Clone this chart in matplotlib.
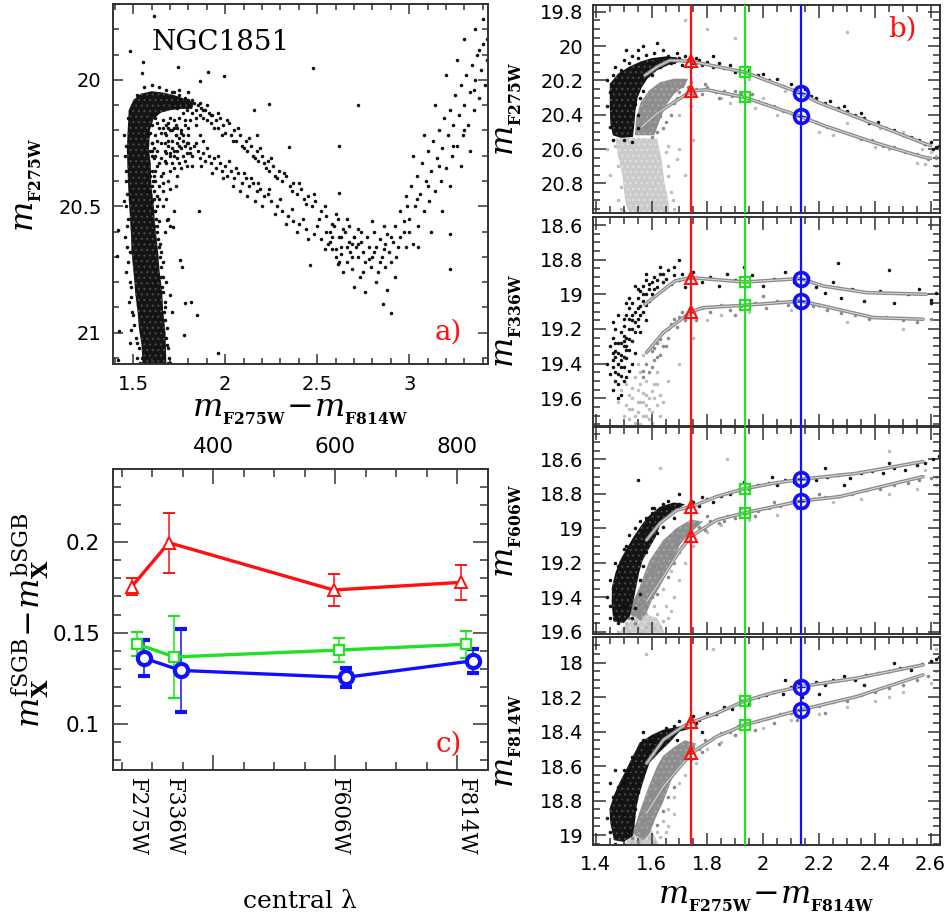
import matplotlib
matplotlib.use('Agg')
import matplotlib.pyplot as plt
from matplotlib.ticker import MultipleLocator

plt.rcParams['mathtext.fontset'] = 'custom'
plt.rcParams['mathtext.rm'] = 'DejaVu Serif'
plt.rcParams['mathtext.it'] = 'DejaVu Serif:italic'
plt.rcParams['mathtext.bf'] = 'DejaVu Serif:bold'
plt.rcParams['font.family'] = ['DejaVu Sans']
plt.rcParams['hatch.linewidth'] = 0.8

# ======================= DATA =======================
# ---- panel c ----
filters = ['F275W', 'F336W', 'F606W', 'F814W']
wavelength = [275, 336, 606, 814]
diff_red = [0.1753, 0.1995, 0.1735, 0.1777]
err_red = [0.0048, 0.0165, 0.0088, 0.0097]
diff_green = [0.1438, 0.1367, 0.1405, 0.1437]
err_green = [0.0066, 0.0224, 0.0067, 0.0074]
diff_blue = [0.1361, 0.1293, 0.1255, 0.1346]
err_blue = [0.0101, 0.0226, 0.0051, 0.0065]

# ---- colour cuts in panel b ----
cut_colors = [1.743, 1.934, 2.134]

# magnitudes of bSGB / fSGB at the three colour cuts (red, green, blue)
b1_bsgb = [20.089, 20.152, 20.274]
b1_fsgb = [20.262, 20.299, 20.410]
b2_bsgb = [18.904, 18.929, 18.909]
b2_fsgb = [19.100, 19.063, 19.039]
b3_bsgb = [18.875, 18.770, 18.716]
b3_fsgb = [19.045, 18.910, 18.842]
b4_bsgb = [18.345, 18.222, 18.139]
b4_fsgb = [18.525, 18.361, 18.274]

# fiducial lines (colour, mag)
b1_up_x = [1.576, 1.62, 1.666, 1.743, 1.934, 2.134, 2.196, 2.40, 2.573, 2.60]
b1_up_y = [20.17, 20.12, 20.083, 20.089, 20.152, 20.274, 20.327, 20.455, 20.565, 20.58]
b1_lo_x = [1.564, 1.618, 1.69, 1.743, 1.797, 1.934, 2.134, 2.215, 2.394, 2.573, 2.60]
b1_lo_y = [20.472, 20.394, 20.317, 20.262, 20.254, 20.299, 20.41, 20.462, 20.56, 20.647, 20.655]
b2_up_x = [1.576, 1.684, 1.743, 1.934, 2.134, 2.215, 2.37, 2.585]
b2_up_y = [19.058, 18.923, 18.904, 18.929, 18.909, 18.952, 18.99, 19.0]
b2_lo_x = [1.582, 1.642, 1.743, 1.785, 1.934, 2.134, 2.215, 2.394, 2.573]
b2_lo_y = [19.336, 19.221, 19.1, 19.077, 19.063, 19.039, 19.067, 19.134, 19.144]
b3_up_x = [1.582, 1.63, 1.69, 1.743, 1.833, 1.934, 2.036, 2.134, 2.335, 2.573]
b3_up_y = [19.068, 18.97, 18.894, 18.875, 18.816, 18.77, 18.739, 18.716, 18.681, 18.613]
b3_lo_x = [1.582, 1.642, 1.702, 1.743, 1.833, 1.934, 2.134, 2.275, 2.573]
b3_lo_y = [19.425, 19.28, 19.126, 19.045, 18.952, 18.91, 18.842, 18.816, 18.70]
b4_up_x = [1.582, 1.642, 1.702, 1.743, 1.833, 1.934, 2.036, 2.134, 2.335, 2.573]
b4_up_y = [18.584, 18.448, 18.381, 18.345, 18.294, 18.222, 18.174, 18.139, 18.09, 18.013]
b4_lo_x = [1.582, 1.642, 1.702, 1.743, 1.833, 1.934, 2.134, 2.335, 2.573]
b4_lo_y = [18.874, 18.719, 18.603, 18.525, 18.429, 18.361, 18.274, 18.197, 18.071]

# ---- panel a stars (colour, F275W) ----
a_ms_core = [(1.55, 21.13), (1.545, 21.05), (1.53, 20.98), (1.525, 20.93), (1.51, 20.84),
             (1.505, 20.79), (1.49, 20.68), (1.488, 20.62), (1.476, 20.48), (1.472, 20.42),
             (1.465, 20.28), (1.468, 20.22), (1.475, 20.12), (1.50, 20.08), (1.54, 20.055),
             (1.60, 20.045), (1.66, 20.05), (1.72, 20.06), (1.78, 20.075), (1.83, 20.09),
             (1.82, 20.115), (1.76, 20.115), (1.70, 20.12), (1.65, 20.13), (1.61, 20.155),
             (1.59, 20.20), (1.585, 20.28), (1.595, 20.33), (1.598, 20.42), (1.612, 20.50),
             (1.618, 20.57), (1.635, 20.68), (1.642, 20.75), (1.657, 20.84), (1.662, 20.91),
             (1.675, 21.0), (1.68, 21.13)]
a_ms = [(1.455, 20.30), (1.46, 20.40), (1.462, 20.50), (1.465, 20.58), (1.468, 20.66), (1.472, 20.72),
        (1.48, 20.80), (1.488, 20.86), (1.495, 20.92), (1.505, 20.97), (1.515, 21.02), (1.53, 21.06),
        (1.545, 21.10), (1.60, 20.30), (1.605, 20.40), (1.615, 20.47), (1.625, 20.55), (1.635, 20.63),
        (1.645, 20.70), (1.65, 20.78), (1.66, 20.84), (1.67, 20.90), (1.675, 20.95), (1.68, 21.02),
        (1.69, 21.06), (1.695, 21.10), (1.70, 21.12), (1.45, 20.22), (1.47, 20.15), (1.45, 20.48),
        (1.455, 20.62), (1.46, 20.76), (1.475, 20.88), (1.49, 20.99), (1.52, 21.10), (1.62, 20.52),
        (1.63, 20.58), (1.64, 20.66), (1.65, 20.74), (1.655, 20.82), (1.665, 20.92), (1.685, 21.05),
        (1.69, 21.12), (1.60, 20.36), (1.61, 20.44), (1.46, 20.26), (1.458, 20.36), (1.465, 20.45),
        (1.47, 20.55), (1.48, 20.68), (1.49, 20.82), (1.50, 20.93), (1.52, 21.04), (1.535, 21.12),
        (1.60, 20.25), (1.63, 20.50), (1.645, 20.65), (1.66, 20.78), (1.67, 20.88), (1.685, 20.98)]
a_turnoff = [(1.57, 20.16), (1.58, 20.22), (1.59, 20.28), (1.58, 20.33), (1.60, 20.18), (1.60, 20.25),
             (1.61, 20.31), (1.61, 20.38), (1.62, 20.15), (1.62, 20.22), (1.63, 20.28), (1.63, 20.34),
             (1.64, 20.19), (1.64, 20.42), (1.65, 20.25), (1.65, 20.31), (1.66, 20.16), (1.66, 20.37),
             (1.67, 20.21), (1.67, 20.28), (1.68, 20.18), (1.68, 20.33), (1.69, 20.24), (1.69, 20.40),
             (1.70, 20.15), (1.70, 20.29), (1.71, 20.20), (1.72, 20.35), (1.73, 20.18), (1.74, 20.28),
             (1.75, 20.33), (1.76, 20.20), (1.77, 20.30), (1.78, 20.16), (1.79, 20.34), (1.80, 20.19),
             (1.58, 20.44), (1.60, 20.48), (1.62, 20.52), (1.63, 20.46), (1.64, 20.56), (1.66, 20.50),
             (1.67, 20.60), (1.69, 20.55), (1.70, 20.58), (1.72, 20.52), (1.60, 20.42), (1.59, 20.38),
             (1.61, 20.58), (1.65, 20.68), (1.56, 20.03), (1.60, 20.02), (1.64, 20.03), (1.68, 20.04),
             (1.72, 20.05), (1.52, 20.06)]
a_turnoff2 = [(1.59, 20.21), (1.61, 20.27), (1.63, 20.24), (1.65, 20.21), (1.67, 20.25), (1.69, 20.19),
              (1.71, 20.27), (1.73, 20.22), (1.75, 20.26), (1.77, 20.22), (1.79, 20.25), (1.81, 20.29),
              (1.62, 20.36), (1.64, 20.33), (1.66, 20.41), (1.68, 20.29), (1.70, 20.36), (1.72, 20.30),
              (1.74, 20.38), (1.76, 20.35), (1.60, 20.28), (1.62, 20.40), (1.64, 20.47), (1.66, 20.44),
              (1.68, 20.47), (1.70, 20.43), (1.73, 20.42), (1.60, 20.14), (1.63, 20.17), (1.66, 20.19),
              (1.69, 20.17), (1.72, 20.16), (1.75, 20.15), (1.78, 20.18), (1.81, 20.16), (1.84, 20.18),
              (1.86, 20.22), (1.88, 20.24), (1.63, 20.60), (1.66, 20.72), (1.68, 20.80), (1.70, 20.85),
              (1.71, 20.92), (1.62, 20.30), (1.65, 20.38), (1.67, 20.32), (1.71, 20.33), (1.74, 20.19)]
a_bsgb = [(1.71, 20.05), (1.72, 20.09), (1.73, 20.07), (1.74, 20.11), (1.75, 20.06), (1.76, 20.08),
          (1.77, 20.10), (1.78, 20.07), (1.79, 20.12), (1.80, 20.08), (1.81, 20.10), (1.82, 20.13),
          (1.83, 20.09), (1.84, 20.12), (1.85, 20.10), (1.86, 20.14), (1.87, 20.11), (1.88, 20.15),
          (1.89, 20.12), (1.90, 20.16), (1.91, 20.13), (1.92, 20.17), (1.93, 20.14), (1.95, 20.16),
          (1.96, 20.19), (1.97, 20.15), (1.99, 20.18), (2.00, 20.21), (2.02, 20.17), (2.03, 20.22),
          (2.05, 20.20), (2.06, 20.24), (2.08, 20.22), (2.09, 20.26), (2.11, 20.24), (2.12, 20.28),
          (2.14, 20.26), (2.15, 20.30), (2.17, 20.28), (2.18, 20.32), (2.20, 20.30), (2.21, 20.33),
          (2.23, 20.32), (2.24, 20.36), (2.26, 20.34), (2.27, 20.38), (2.29, 20.36), (2.31, 20.40),
          (2.33, 20.38), (2.35, 20.42), (2.37, 20.41), (2.39, 20.45), (2.41, 20.43), (2.43, 20.47),
          (2.45, 20.46), (2.47, 20.50), (2.49, 20.48), (2.52, 20.52), (2.55, 20.54), (2.58, 20.57),
          (2.61, 20.55), (2.64, 20.59), (2.67, 20.58), (2.70, 20.62)]
a_bsgb2 = [(1.75, 20.04), (1.77, 20.13), (1.80, 20.05), (1.82, 20.08), (1.84, 20.15), (1.86, 20.09),
           (1.88, 20.12), (1.90, 20.10), (1.92, 20.14), (1.94, 20.19), (1.96, 20.13), (1.98, 20.22),
           (2.01, 20.16), (2.04, 20.24), (2.07, 20.19), (2.10, 20.27), (2.13, 20.23), (2.16, 20.31),
           (2.19, 20.27), (2.22, 20.35), (2.25, 20.31), (2.28, 20.39), (2.32, 20.37), (2.36, 20.44),
           (2.40, 20.41), (2.44, 20.49), (2.48, 20.45), (2.51, 20.55), (2.54, 20.50), (2.57, 20.60),
           (2.60, 20.53), (2.63, 20.62), (2.66, 20.55), (2.69, 20.65)]
a_fsgb = [(1.68, 20.22), (1.69, 20.26), (1.70, 20.20), (1.71, 20.24), (1.72, 20.28), (1.73, 20.22),
          (1.74, 20.25), (1.75, 20.23), (1.76, 20.27), (1.77, 20.24), (1.78, 20.26), (1.79, 20.29),
          (1.80, 20.25), (1.81, 20.27), (1.82, 20.30), (1.83, 20.26), (1.85, 20.28), (1.86, 20.31),
          (1.88, 20.29), (1.89, 20.32), (1.91, 20.30), (1.92, 20.33), (1.94, 20.31), (1.95, 20.35),
          (1.97, 20.33), (1.98, 20.36), (2.00, 20.34), (2.01, 20.38), (2.03, 20.36), (2.05, 20.39),
          (2.07, 20.37), (2.09, 20.41), (2.11, 20.39), (2.13, 20.42), (2.15, 20.41), (2.17, 20.44),
          (2.19, 20.43), (2.21, 20.46), (2.23, 20.45), (2.25, 20.48), (2.28, 20.50), (2.31, 20.52),
          (2.34, 20.54), (2.37, 20.56), (2.40, 20.57), (2.44, 20.59), (2.48, 20.61), (2.52, 20.63),
          (2.56, 20.65), (2.60, 20.67), (2.63, 20.69)]
a_fsgb2 = [(1.70, 20.30), (1.72, 20.19), (1.74, 20.31), (1.76, 20.21), (1.78, 20.32), (1.80, 20.22),
           (1.82, 20.34), (1.84, 20.25), (1.87, 20.34), (1.90, 20.27), (1.93, 20.37), (1.96, 20.30),
           (1.99, 20.39), (2.02, 20.32), (2.04, 20.42), (2.06, 20.35), (2.08, 20.44), (2.10, 20.37),
           (2.12, 20.46), (2.14, 20.39), (2.16, 20.48), (2.18, 20.41), (2.20, 20.50), (2.24, 20.43),
           (2.27, 20.53), (2.30, 20.47), (2.33, 20.57), (2.36, 20.51), (2.39, 20.60), (2.42, 20.55),
           (2.45, 20.63), (2.50, 20.58), (2.54, 20.67), (2.58, 20.62), (2.62, 20.72)]
a_rgb = [(2.55, 20.60), (2.57, 20.64), (2.59, 20.58), (2.60, 20.70), (2.62, 20.62), (2.63, 20.66),
         (2.65, 20.60), (2.66, 20.72), (2.67, 20.64), (2.68, 20.68), (2.69, 20.75), (2.70, 20.62),
         (2.71, 20.66), (2.72, 20.70), (2.73, 20.78), (2.74, 20.64), (2.75, 20.68), (2.76, 20.72),
         (2.77, 20.62), (2.78, 20.66), (2.79, 20.74), (2.80, 20.70), (2.81, 20.60), (2.82, 20.66),
         (2.83, 20.76), (2.84, 20.63), (2.85, 20.70), (2.86, 20.67), (2.87, 20.74), (2.88, 20.61),
         (2.89, 20.68), (2.90, 20.72), (2.91, 20.64), (2.92, 20.58), (2.93, 20.70), (2.70, 20.82),
         (2.76, 20.84), (2.82, 20.80), (2.88, 20.83), (2.92, 20.78), (2.64, 20.76), (2.74, 20.60),
         (2.80, 20.56), (2.86, 20.58), (2.95, 20.62), (2.97, 20.56), (2.98, 20.66), (3.00, 20.60),
         (2.95, 20.52), (2.97, 20.60), (2.98, 20.46), (3.00, 20.55), (3.01, 20.42), (3.02, 20.65),
         (3.03, 20.50), (3.04, 20.38), (3.05, 20.58), (3.06, 20.45), (3.07, 20.33), (3.08, 20.52),
         (3.09, 20.40), (3.10, 20.28), (3.11, 20.48), (3.12, 20.36), (3.13, 20.24), (3.14, 20.44),
         (3.15, 20.31), (3.16, 20.20), (3.17, 20.40), (3.18, 20.27), (3.19, 20.15), (3.20, 20.35),
         (3.21, 20.22), (3.22, 20.12), (3.23, 20.30), (3.24, 20.18), (3.25, 20.06), (3.26, 20.26),
         (3.27, 20.14), (3.28, 20.02), (3.29, 20.22), (3.30, 20.10), (3.31, 19.98), (3.32, 20.18),
         (3.33, 20.05), (3.34, 19.94), (3.35, 20.12), (3.36, 20.00), (3.37, 19.90), (3.38, 20.07),
         (3.39, 19.96), (3.40, 19.86), (3.41, 20.02), (3.42, 19.92), (3.05, 20.66), (3.12, 20.60),
         (3.18, 20.52), (3.22, 20.42), (3.28, 20.34), (3.33, 20.28), (3.02, 20.30), (3.08, 20.22),
         (3.14, 20.10), (3.20, 19.98), (3.26, 19.92), (3.30, 19.84), (3.36, 19.80), (3.40, 19.76),
         (2.58, 20.67), (2.61, 20.73), (2.66, 20.66), (2.69, 20.70), (2.72, 20.65), (2.75, 20.76),
         (2.78, 20.71), (2.81, 20.68), (2.84, 20.72), (2.87, 20.65), (2.90, 20.62), (2.72, 20.59),
         (2.94, 20.66), (2.99, 20.50), (3.04, 20.47), (3.10, 20.42), (3.16, 20.34), (3.24, 20.26),
         (3.30, 20.20), (3.35, 20.04), (3.38, 19.88), (3.42, 19.84)]
a_field = [(1.482, 19.884), (1.614, 19.746), (1.551, 19.93), (1.549, 19.974), (1.745, 19.95),
           (1.908, 19.967), (1.862, 20.003), (1.995, 19.983), (2.478, 19.954), (2.723, 20.099),
           (2.62, 20.262), (2.348, 20.266), (2.158, 20.118), (2.239, 20.097), (2.174, 20.22),
           (1.855, 20.518), (2.62, 20.447), (2.46, 20.733), (2.859, 20.887), (2.899, 20.924),
           (3.22, 20.75), (3.22, 20.61), (1.781, 20.884), (1.813, 20.878), (1.844, 20.93),
           (1.775, 21.009), (1.962, 21.082), (1.754, 20.713), (1.763, 20.739), (1.717, 20.582),
           (1.681, 20.555), (1.418, 20.592), (1.409, 20.697), (1.424, 20.993), (1.482, 21.039),
           (1.418, 21.108)]

# ---- panel b stars ----
b1_black_core = [(1.45, 20.22), (1.48, 20.16), (1.52, 20.12), (1.56, 20.09), (1.60, 20.07),
                 (1.65, 20.06), (1.69, 20.065), (1.70, 20.09), (1.66, 20.11), (1.62, 20.14),
                 (1.585, 20.19), (1.565, 20.24), (1.55, 20.30), (1.542, 20.38), (1.538, 20.46),
                 (1.533, 20.53), (1.49, 20.535), (1.461, 20.52), (1.452, 20.45), (1.45, 20.35)]
b1_gray_core = [(1.54, 20.52), (1.545, 20.42), (1.56, 20.33), (1.59, 20.26), (1.63, 20.21),
                (1.68, 20.19), (1.73, 20.19), (1.72, 20.23), (1.68, 20.28), (1.65, 20.35),
                (1.63, 20.43), (1.61, 20.52)]
b1_light_core = [(1.47, 20.54), (1.55, 20.535), (1.62, 20.54), (1.635, 20.65), (1.645, 20.78),
                 (1.66, 20.90), (1.665, 20.98), (1.52, 20.98), (1.505, 20.90), (1.495, 20.75),
                 (1.48, 20.64)]
b1_black = [(1.60, 20.10), (1.62, 20.08), (1.64, 20.10), (1.66, 20.06), (1.68, 20.09), (1.70, 20.07),
            (1.71, 20.11), (1.73, 20.08), (1.75, 20.10), (1.76, 20.07), (1.78, 20.11), (1.80, 20.09),
            (1.82, 20.12), (1.84, 20.10), (1.86, 20.13), (1.88, 20.11), (1.90, 20.15), (1.95, 20.14),
            (1.98, 20.17), (2.00, 20.16), (2.02, 20.20), (2.05, 20.19), (2.07, 20.23), (2.10, 20.22),
            (2.12, 20.26), (2.15, 20.25), (2.17, 20.29), (2.19, 20.30), (2.22, 20.33), (2.24, 20.32),
            (2.27, 20.36), (2.30, 20.38), (2.33, 20.40), (2.36, 20.42), (2.38, 20.45), (2.41, 20.44),
            (2.44, 20.48), (2.47, 20.49), (2.50, 20.52), (2.53, 20.53), (2.56, 20.55), (2.58, 20.57),
            (2.60, 20.56), (2.62, 20.59), (2.63, 20.58), (2.61, 20.60), (2.29, 20.35), (2.35, 20.39),
            (1.57, 20.00), (1.62, 19.98), (1.55, 20.02), (1.82, 20.06), (1.44, 20.20), (1.44, 20.35),
            (1.45, 20.47), (1.57, 20.20), (1.58, 20.14), (1.56, 20.30), (1.46, 20.55), (1.50, 20.55),
            (1.53, 20.56), (1.69, 20.04), (1.64, 20.02), (1.51, 20.02), (1.47, 20.12), (1.50, 20.08),
            (1.53, 20.06), (1.49, 20.14), (1.46, 20.17), (1.52, 20.10), (1.55, 20.07), (1.58, 20.05),
            (1.61, 20.04), (1.45, 20.27), (1.55, 20.40), (1.55, 20.48), (1.54, 20.34), (1.57, 20.26),
            (1.60, 20.17), (1.63, 20.12), (1.67, 20.10), (1.72, 20.06), (1.74, 20.12), (1.77, 20.08)]
b1_gray = [(1.56, 20.45), (1.57, 20.40), (1.58, 20.47), (1.58, 20.35), (1.59, 20.42), (1.60, 20.30),
           (1.61, 20.46), (1.62, 20.26), (1.63, 20.41), (1.65, 20.44), (1.67, 20.40), (1.68, 20.33),
           (1.70, 20.27), (1.71, 20.23), (1.73, 20.24), (1.74, 20.21), (1.75, 20.28), (1.62, 20.50),
           (1.66, 20.22), (1.69, 20.30), (1.64, 20.48), (1.60, 20.53),
           (1.76, 20.25), (1.78, 20.28), (1.80, 20.24), (1.83, 20.27), (1.86, 20.26), (1.89, 20.29),
           (1.92, 20.28), (1.95, 20.31), (1.98, 20.32), (2.01, 20.34), (2.04, 20.35), (2.07, 20.38),
           (2.10, 20.39), (2.16, 20.43), (2.19, 20.44), (2.23, 20.47), (2.27, 20.49), (2.31, 20.51),
           (2.35, 20.54), (2.39, 20.55), (2.43, 20.58), (2.47, 20.59), (2.51, 20.62), (2.55, 20.63),
           (2.59, 20.66), (2.62, 20.65), (1.79, 20.22), (1.84, 20.30), (1.90, 20.26), (1.96, 20.28)]
b1_light = [(1.44, 20.60), (1.45, 20.75), (1.48, 20.90), (1.66, 20.70), (1.67, 20.85), (1.68, 20.95),
            (1.70, 20.60), (1.75, 20.55), (1.80, 19.90), (1.90, 19.95), (2.00, 20.30), (2.20, 20.50),
            (2.45, 20.60), (2.55, 20.68), (2.30, 20.45), (1.85, 20.30), (2.05, 20.40), (2.62, 20.64),
            (2.50, 20.50), (1.72, 19.85), (2.30, 19.92), (1.66, 20.58), (1.69, 20.66), (1.72, 20.75),
            (1.49, 20.95), (1.50, 20.96), (1.70, 20.40), (1.74, 20.35),
            (1.88, 20.33), (1.97, 20.36), (2.12, 20.44), (2.25, 20.52), (2.40, 20.59), (2.58, 20.69),
            (2.62, 20.70), (1.95, 20.19), (2.08, 20.26), (2.42, 20.48), (2.57, 20.60), (2.60, 20.62),
            (1.47, 20.58), (1.48, 20.70), (1.49, 20.82), (1.65, 20.62), (1.66, 20.76), (1.675, 20.90)]

b2_black = [(1.45, 19.30), (1.46, 19.25), (1.46, 19.38), (1.47, 19.20), (1.47, 19.33), (1.47, 19.45),
            (1.48, 19.28), (1.48, 19.40), (1.48, 19.52), (1.49, 19.22), (1.49, 19.35), (1.49, 19.47),
            (1.50, 19.18), (1.50, 19.30), (1.50, 19.42), (1.51, 19.12), (1.51, 19.25), (1.51, 19.37),
            (1.52, 19.08), (1.52, 19.20), (1.52, 19.32), (1.53, 19.15), (1.53, 19.27), (1.53, 19.05),
            (1.54, 19.10), (1.54, 19.22), (1.55, 19.02), (1.55, 19.14), (1.56, 19.07), (1.56, 18.98),
            (1.57, 19.04), (1.57, 18.95), (1.58, 19.00), (1.58, 18.92), (1.59, 18.97), (1.60, 18.93),
            (1.61, 18.90), (1.62, 18.96), (1.63, 18.88), (1.64, 18.93), (1.65, 18.91), (1.66, 18.86),
            (1.67, 18.94), (1.68, 18.89), (1.70, 18.92), (1.72, 18.96), (1.46, 19.55), (1.48, 19.60),
            (1.54, 18.95), (1.50, 19.50), (1.44, 19.40), (1.46, 19.16), (1.48, 19.12), (1.51, 19.05),
            (1.49, 19.28), (1.47, 19.36), (1.50, 19.24), (1.52, 19.14), (1.53, 19.40),
            (1.46, 19.42), (1.47, 19.28), (1.48, 19.34), (1.49, 19.42), (1.50, 19.36), (1.51, 19.30),
            (1.52, 19.26), (1.53, 19.20), (1.54, 19.16), (1.55, 19.08), (1.56, 19.12), (1.57, 19.00),
            (1.58, 19.06), (1.59, 18.94), (1.60, 19.00), (1.62, 18.92), (1.64, 18.88), (1.47, 19.50),
            (1.49, 19.38), (1.51, 19.32), (1.52, 19.44), (1.50, 19.27), (1.48, 19.46), (1.53, 19.12),
            (1.55, 19.18), (1.57, 19.10), (1.59, 19.04), (1.61, 18.97), (1.46, 19.34), (1.45, 19.46),
            (1.50, 19.14), (1.52, 19.02), (1.55, 18.97), (1.58, 18.88), (1.63, 18.84), (1.68, 18.84),
            (1.71, 18.88), (1.49, 19.58), (1.51, 19.48), (1.54, 19.34), (1.56, 19.22), (1.58, 19.15),
            (1.75, 18.87), (1.78, 18.93), (1.81, 18.90), (1.84, 18.95), (1.87, 18.88), (1.90, 18.92),
            (1.96, 18.89), (2.00, 18.95), (2.04, 18.91), (2.08, 18.87), (2.11, 18.93), (2.16, 18.90),
            (2.19, 18.96), (2.22, 18.99), (2.25, 18.93), (2.28, 19.02), (2.32, 18.97), (2.36, 19.04),
            (2.42, 18.98), (2.47, 19.05), (2.52, 19.00), (2.56, 18.97), (2.60, 19.03), (2.62, 18.99),
            (1.93, 18.84), (2.27, 18.82), (2.45, 18.86), (1.70, 18.80), (2.60, 19.05), (2.20, 19.06)]
b2_gray = [(1.58, 19.40), (1.60, 19.33), (1.62, 19.28), (1.63, 19.35), (1.64, 19.22), (1.66, 19.25),
           (1.67, 19.17), (1.69, 19.19), (1.70, 19.13), (1.72, 19.15), (1.75, 19.10), (1.78, 19.08),
           (1.81, 19.10), (1.85, 19.06), (1.88, 19.09), (1.92, 19.07), (1.97, 19.05), (2.01, 19.08),
           (2.05, 19.04), (2.09, 19.06), (2.13, 19.03), (2.18, 19.07), (2.23, 19.09), (2.28, 19.11),
           (2.33, 19.12), (2.38, 19.14), (2.44, 19.13), (2.50, 19.15), (2.55, 19.16), (2.60, 19.14),
           (1.59, 19.45), (1.61, 19.38), (1.57, 19.48), (1.65, 19.30), (1.76, 19.15), (1.90, 19.12),
           (2.00, 19.01), (1.60, 19.42), (1.62, 19.36), (1.64, 19.30), (1.66, 19.20), (1.68, 19.14),
           (1.57, 19.44), (1.61, 19.31), (1.63, 19.26), (1.71, 19.10)]
b2_light = [(1.48, 19.62), (1.50, 19.70), (1.52, 19.58), (1.53, 19.66), (1.54, 19.74), (1.55, 19.55),
            (1.56, 19.62), (1.57, 19.70), (1.58, 19.58), (1.59, 19.66), (1.60, 19.74), (1.61, 19.60),
            (1.62, 19.52), (1.54, 19.48), (1.56, 19.45), (1.58, 19.50), (1.60, 19.56), (1.51, 19.64),
            (1.49, 19.55), (1.63, 19.70), (1.64, 19.62), (1.66, 19.50), (1.70, 19.40), (1.75, 19.25),
            (1.80, 19.15), (1.85, 19.12), (1.95, 19.10), (2.10, 19.09), (2.30, 19.16), (2.50, 19.20),
            (1.55, 19.40), (1.57, 19.35), (1.62, 19.45), (1.52, 19.72), (1.56, 19.75), (1.59, 19.72),
            (1.53, 19.60), (1.55, 19.68), (1.57, 19.57), (1.58, 19.64), (1.60, 19.68), (1.61, 19.52),
            (1.63, 19.58), (1.51, 19.52), (1.54, 19.70), (1.57, 19.62), (1.52, 19.66), (1.55, 19.62),
            (1.58, 19.70), (1.56, 19.52), (1.59, 19.60), (1.62, 19.64), (1.53, 19.54)]

b3_black_core = [(1.463, 19.54), (1.457, 19.44), (1.458, 19.34), (1.47, 19.26), (1.487, 19.186),
                 (1.51, 19.12), (1.535, 19.05), (1.56, 18.99), (1.585, 18.935), (1.63, 18.875),
                 (1.68, 18.85), (1.72, 18.86), (1.675, 18.91), (1.635, 18.96), (1.615, 19.05),
                 (1.59, 19.12), (1.568, 19.186), (1.555, 19.26), (1.545, 19.34), (1.535, 19.42),
                 (1.522, 19.51), (1.50, 19.55)]
b3_gray_core = [(1.52, 19.50), (1.535, 19.42), (1.557, 19.34), (1.575, 19.26), (1.593, 19.186),
                (1.62, 19.12), (1.641, 19.07), (1.688, 19.00), (1.74, 18.95), (1.785, 18.96),
                (1.724, 19.05), (1.70, 19.10), (1.677, 19.186), (1.655, 19.26), (1.629, 19.34),
                (1.60, 19.42), (1.581, 19.495), (1.56, 19.53)]
b3_light_core = [(1.48, 19.62), (1.50, 19.57), (1.53, 19.53), (1.58, 19.50), (1.62, 19.52),
                 (1.64, 19.58), (1.65, 19.62)]
b3_black = [(1.60, 18.91), (1.63, 18.89), (1.66, 18.87), (1.68, 18.90), (1.70, 18.86), (1.72, 18.88),
            (1.75, 18.85), (1.77, 18.87), (1.80, 18.83), (1.82, 18.85), (1.85, 18.81), (1.88, 18.80),
            (1.91, 18.78), (1.95, 18.77), (1.98, 18.75), (2.02, 18.74), (2.05, 18.75), (2.08, 18.72),
            (2.11, 18.73), (2.15, 18.71), (2.19, 18.72), (2.23, 18.70), (2.27, 18.69), (2.31, 18.71),
            (2.35, 18.68), (2.39, 18.67), (2.43, 18.68), (2.47, 18.65), (2.51, 18.66), (2.55, 18.63),
            (2.58, 18.62), (2.61, 18.60), (2.63, 18.58), (2.03, 18.70), (2.22, 18.65), (2.45, 18.62),
            (2.29, 18.75), (1.93, 18.73), (1.70, 18.80), (1.55, 18.72), (1.45, 19.45), (1.47, 19.50),
            (1.50, 19.30), (1.52, 19.20), (1.55, 19.10), (1.56, 19.30), (1.58, 19.08), (1.62, 18.97),
            (1.58, 18.98), (1.50, 19.45), (1.53, 19.38), (1.48, 19.36), (1.50, 19.18), (1.57, 19.02),
            (1.65, 18.93), (1.45, 19.52), (1.48, 19.55), (1.46, 19.35), (1.48, 19.22), (1.51, 19.10),
            (1.54, 19.00), (1.58, 18.94), (1.61, 18.88), (1.66, 18.84), (1.55, 19.20), (1.54, 19.28),
            (1.44, 19.40), (1.45, 19.30), (1.47, 19.20), (1.50, 19.12), (1.52, 19.04), (1.56, 18.96),
            (1.60, 18.88), (1.64, 18.86), (1.58, 19.14), (1.57, 19.22), (1.56, 19.38), (1.54, 19.46),
            (1.53, 19.52), (1.62, 19.03), (1.64, 18.99), (1.68, 18.94), (1.74, 18.84), (1.78, 18.82)]
b3_gray = [(1.52, 19.52), (1.53, 19.46), (1.55, 19.48), (1.55, 19.40), (1.57, 19.42), (1.57, 19.34),
           (1.58, 19.28), (1.59, 19.36), (1.60, 19.25), (1.61, 19.30), (1.62, 19.18), (1.63, 19.23),
           (1.64, 19.14), (1.65, 19.19), (1.66, 19.10), (1.67, 19.15), (1.68, 19.07), (1.70, 19.05),
           (1.71, 19.10), (1.73, 19.02), (1.75, 19.04), (1.77, 18.99), (1.79, 19.01), (1.81, 18.96),
           (1.84, 18.97), (1.87, 18.93), (1.90, 18.94), (1.94, 18.91), (1.98, 18.90), (2.02, 18.88),
           (2.06, 18.87), (2.10, 18.85), (2.14, 18.84), (2.18, 18.83), (2.22, 18.82), (2.27, 18.81),
           (2.32, 18.80), (2.37, 18.78), (2.42, 18.77), (2.47, 18.75), (2.52, 18.74), (2.56, 18.72),
           (2.60, 18.71), (1.54, 19.55), (1.56, 19.52), (1.58, 19.45), (1.63, 19.28), (1.60, 19.40),
           (1.56, 19.44), (1.59, 19.32), (1.61, 19.22), (1.64, 19.20), (1.66, 19.14), (1.69, 19.09),
           (1.70, 19.14), (1.68, 19.20), (1.66, 19.28), (1.62, 19.38), (1.76, 18.97), (1.80, 18.93),
           (1.86, 18.96), (1.92, 18.88), (1.97, 18.93), (2.04, 18.85), (2.12, 18.88), (2.20, 18.80)]
b3_light = [(1.50, 19.58), (1.52, 19.60), (1.55, 19.58), (1.57, 19.60), (1.59, 19.55), (1.60, 19.60),
            (1.62, 19.50), (1.63, 19.57), (1.65, 19.45), (1.66, 19.52), (1.68, 19.40), (1.70, 19.30),
            (1.72, 19.20), (1.58, 19.50), (1.61, 19.45), (1.64, 19.35), (1.67, 19.25), (1.75, 19.10),
            (1.80, 19.02), (1.85, 18.98), (1.95, 18.95), (2.05, 18.92), (2.15, 18.88), (2.25, 18.85),
            (2.35, 18.83), (2.45, 18.80), (2.55, 18.77), (2.62, 18.75), (1.53, 19.62), (1.48, 19.60),
            (1.63, 18.65), (1.87, 18.60), (2.45, 18.55), (2.58, 18.66), (2.62, 18.70), (1.54, 19.56),
            (1.56, 19.61), (1.58, 19.57), (1.61, 19.58), (1.64, 19.54), (1.51, 19.55), (1.67, 19.48)]

b4_black_core = [(1.465, 19.03), (1.452, 18.93), (1.449, 18.85), (1.465, 18.77), (1.485, 18.696),
                 (1.503, 18.64), (1.521, 18.58), (1.54, 18.52), (1.557, 18.464), (1.60, 18.42),
                 (1.64, 18.39), (1.70, 18.37), (1.745, 18.38), (1.70, 18.40), (1.664, 18.464),
                 (1.628, 18.52), (1.593, 18.58), (1.58, 18.64), (1.569, 18.696), (1.555, 18.77),
                 (1.545, 18.85), (1.54, 18.93), (1.533, 19.005), (1.50, 19.04)]
b4_gray_core = [(1.533, 18.99), (1.55, 18.90), (1.569, 18.81), (1.587, 18.73), (1.605, 18.657),
                (1.62, 18.60), (1.641, 18.541), (1.68, 18.49), (1.72, 18.45), (1.76, 18.47),
                (1.736, 18.541), (1.70, 18.60), (1.677, 18.657), (1.66, 18.73), (1.641, 18.81),
                (1.615, 18.90), (1.593, 18.99), (1.57, 19.03)]
b4_light_core = [(1.50, 19.07), (1.52, 19.01), (1.55, 18.98), (1.60, 18.97), (1.63, 19.07)]
b4_black = [(1.62, 18.42), (1.65, 18.38), (1.68, 18.37), (1.70, 18.34), (1.72, 18.36), (1.75, 18.31),
            (1.77, 18.33), (1.80, 18.29), (1.83, 18.30), (1.86, 18.26), (1.89, 18.27), (1.92, 18.22),
            (1.95, 18.24), (1.98, 18.20), (2.01, 18.19), (2.04, 18.17), (2.07, 18.18), (2.10, 18.14),
            (2.13, 18.12), (2.16, 18.15), (2.19, 18.11), (2.22, 18.13), (2.25, 18.10), (2.29, 18.08),
            (2.33, 18.10), (2.37, 18.07), (2.41, 18.06), (2.45, 18.05), (2.49, 18.03), (2.53, 18.04),
            (2.57, 18.01), (2.60, 17.99), (2.62, 17.98), (2.63, 17.97), (2.08, 18.10), (2.14, 18.20),
            (2.20, 18.18), (1.78, 18.40), (1.69, 18.45), (1.57, 18.40), (2.36, 18.13), (2.47, 18.00),
            (1.45, 18.98), (1.46, 18.85), (1.48, 18.95), (1.50, 18.88), (1.48, 18.72), (1.50, 18.62),
            (1.53, 18.55), (1.55, 18.52), (1.57, 18.45), (1.60, 18.45), (1.45, 18.70), (1.47, 18.62),
            (1.53, 18.80), (1.55, 18.70), (1.58, 18.58), (1.62, 18.50), (1.52, 18.98), (1.47, 19.05),
            (1.54, 18.60), (1.56, 18.55), (1.51, 18.66), (1.49, 18.80), (1.44, 18.90), (1.46, 18.78),
            (1.50, 18.70), (1.52, 18.62), (1.55, 18.58), (1.58, 18.50), (1.61, 18.46), (1.66, 18.42),
            (1.71, 18.38), (1.76, 18.35), (1.56, 18.65), (1.55, 18.75), (1.54, 18.85), (1.53, 18.92)]
b4_gray = [(1.53, 19.02), (1.54, 18.95), (1.56, 18.97), (1.56, 18.88), (1.58, 18.90), (1.58, 18.82),
           (1.60, 18.84), (1.60, 18.76), (1.62, 18.78), (1.62, 18.70), (1.64, 18.72), (1.65, 18.64),
           (1.67, 18.66), (1.68, 18.58), (1.70, 18.60), (1.71, 18.54), (1.73, 18.52), (1.75, 18.49),
           (1.77, 18.50), (1.79, 18.45), (1.82, 18.44), (1.85, 18.41), (1.88, 18.40), (1.91, 18.37),
           (1.94, 18.35), (1.98, 18.34), (2.02, 18.32), (2.06, 18.30), (2.10, 18.29), (2.15, 18.27),
           (2.20, 18.25), (2.25, 18.23), (2.30, 18.22), (2.35, 18.19), (2.40, 18.17), (2.45, 18.15),
           (2.50, 18.13), (2.55, 18.10), (2.59, 18.08), (1.55, 19.04), (1.57, 18.99), (1.59, 18.93),
           (1.63, 18.80), (1.57, 18.92), (1.59, 18.86), (1.61, 18.80), (1.63, 18.74), (1.66, 18.68),
           (1.68, 18.72), (1.66, 18.78), (1.64, 18.86), (1.62, 18.94), (1.74, 18.56), (1.78, 18.52),
           (1.84, 18.47), (1.90, 18.42), (1.97, 18.39), (2.04, 18.35), (2.12, 18.33), (2.22, 18.29)]
b4_light = [(1.50, 19.05), (1.53, 19.04), (1.56, 19.03), (1.59, 19.02), (1.62, 18.98), (1.64, 18.92),
            (1.66, 18.85), (1.68, 18.78), (1.70, 18.70), (1.72, 18.65), (1.76, 18.58), (1.80, 18.50),
            (1.85, 18.46), (1.90, 18.42), (2.00, 18.38), (2.10, 18.33), (2.20, 18.30), (2.30, 18.26),
            (2.40, 18.22), (2.50, 18.17), (2.60, 18.12), (2.62, 18.05), (1.60, 19.05), (1.65, 18.98),
            (1.58, 17.95), (1.82, 17.92), (2.62, 17.92), (2.45, 18.20), (1.55, 19.05), (1.61, 19.04),
            (1.63, 19.01), (1.66, 18.95), (1.68, 18.88)]

# ======================= STYLE =======================
W, H = 948, 921
fig = plt.figure(figsize=(W / 100, H / 100), dpi=100)


def px_axes(l, t, r, b):
    return fig.add_axes([l / W, 1 - b / H, (r - l) / W, (b - t) / H])


def style(ax, maj_len, min_len, lsize=14, pad=7):
    ax.tick_params(which='both', direction='in', top=True, right=True,
                   labelsize=lsize, pad=pad, width=1.1, color='#333333')
    ax.tick_params(which='major', length=maj_len)
    ax.tick_params(which='minor', length=min_len)
    for s in ax.spines.values():
        s.set_linewidth(1.4)
        s.set_color('#333333')


def dots(ax, pts, color, s=6.5, z=2):
    xs = [p[0] for p in pts]
    ys = [p[1] for p in pts]
    ax.scatter(xs, ys, s=s, c=color, linewidths=0, marker='o', zorder=z)


def blob(ax, pts, face, speck, z=1.5):
    xs = [p[0] for p in pts]
    ys = [p[1] for p in pts]
    ax.fill(xs, ys, facecolor=face, edgecolor=speck, hatch='...', lw=0, zorder=z)


def mlabel(a, b=None):
    if b is None:
        return r'$m_{_{\mathbf{%s}}}$' % a
    return r'$m_{_{\mathbf{%s}}}\!-\!m_{_{\mathbf{%s}}}$' % (a, b)


RED, GREEN, BLUE = '#ff1010', '#22e022', '#1010ff'
BLACK, GRAY = '#111111', '#8a8a8a'

# ======================= PANEL a =======================
axa = px_axes(112.7, 4, 488, 364)
blob(axa, a_ms_core, '#141414', '#4a4a4a')
for grp in (a_ms, a_turnoff, a_turnoff2, a_bsgb, a_bsgb2, a_fsgb, a_fsgb2, a_rgb, a_field):
    dots(axa, grp, BLACK)
axa.set_xlim(1.388, 3.428)
axa.set_ylim(21.124, 19.70)
axa.xaxis.set_major_locator(MultipleLocator(0.5))
axa.xaxis.set_minor_locator(MultipleLocator(0.1))
axa.yaxis.set_major_locator(MultipleLocator(0.5))
axa.yaxis.set_minor_locator(MultipleLocator(0.1))
axa.xaxis.set_major_formatter(plt.FuncFormatter(lambda v, p: f'{v:g}'))
axa.yaxis.set_major_formatter(plt.FuncFormatter(lambda v, p: f'{v:g}'))
style(axa, 7, 4, 14, 8)
axa.text(0.104, 0.872, 'NGC1851', transform=axa.transAxes, family='DejaVu Serif',
         fontsize=20, ha='left', va='baseline')
axa.text(0.932, 0.067, 'a)', transform=axa.transAxes, family='DejaVu Serif',
         fontsize=20, color=RED, ha='right', va='baseline')
fig.text(28.5 / W, 1 - 185 / H, mlabel('F275W'), rotation=90, ha='center', va='center', fontsize=23)
fig.text(300 / W, 1 - 411 / H, mlabel('F275W', 'F814W'), ha='center', va='center', fontsize=23)

# ======================= PANEL c =======================
axc = px_axes(112.7, 469, 488, 770)
offsets = {'red': -9, 'green': 0, 'blue': 11}
series = [('red', diff_red, err_red, RED, '^', 9, 1.4),
          ('green', diff_green, err_green, GREEN, 's', 7.5, 1.6),
          ('blue', diff_blue, err_blue, BLUE, 'o', 9.5, 3.0)]
for name, vals, errs, col, mk, ms, mew in series:
    xs = [w + offsets[name] for w in wavelength]
    axc.errorbar(xs, vals, yerr=errs, color=col, lw=2.4, marker=mk, ms=ms, mfc='white',
                 mec=col, mew=mew, elinewidth=1.1, capsize=4.5, capthick=1.1, zorder=3)
axc.set_xlim(235, 850)
axc.set_ylim(0.0746, 0.240)
axc.xaxis.set_major_locator(MultipleLocator(200))
axc.xaxis.set_minor_locator(MultipleLocator(50))
axc.yaxis.set_major_locator(MultipleLocator(0.05))
axc.yaxis.set_minor_locator(MultipleLocator(0.01))
axc.yaxis.set_major_formatter(plt.FuncFormatter(lambda v, p: f'{v:g}'))
style(axc, 11, 6, 15.5, 9)
axc.tick_params(labeltop=True, labelbottom=False)
for f, w in zip(filters, wavelength):
    axc.text(w, -0.025, f, transform=axc.get_xaxis_transform(), rotation=-90, ha='center',
             va='top', family='DejaVu Serif', fontsize=15.5)
axc.text(0.932, 0.06, 'c)', transform=axc.transAxes, family='DejaVu Serif',
         fontsize=20, color=RED, ha='right', va='baseline')
fig.text(30 / W, 1 - 620 / H,
         r'$m_{\mathbf{X}}^{\mathrm{fSGB}}\!-\!m_{\mathbf{X}}^{\mathrm{bSGB}}$',
         rotation=90, ha='center', va='center', fontsize=23)
fig.text(300 / W, 1 - 901 / H, 'central λ', ha='center', va='center',
         family='DejaVu Serif', fontsize=18)

# ======================= PANEL b =======================
b_rows = [
    (5, 213.3, (20.975, 19.76), 'F275W', b1_up_x, b1_up_y, b1_lo_x, b1_lo_y, b1_bsgb, b1_fsgb),
    (216.7, 426, (19.76, 18.552), 'F336W', b2_up_x, b2_up_y, b2_lo_x, b2_lo_y, b2_bsgb, b2_fsgb),
    (427.3, 634.3, (19.615, 18.414), 'F606W', b3_up_x, b3_up_y, b3_lo_x, b3_lo_y, b3_bsgb, b3_fsgb),
    (637.3, 845, (19.058, 17.853), 'F814W', b4_up_x, b4_up_y, b4_lo_x, b4_lo_y, b4_bsgb, b4_fsgb),
]
b_clouds = [
    ([b1_light_core], b1_light, [b1_gray_core], b1_gray, [b1_black_core], b1_black),
    ([], b2_light, [], b2_gray, [], b2_black),
    ([b3_light_core], b3_light, [b3_gray_core], b3_gray, [b3_black_core], b3_black),
    ([b4_light_core], b4_light, [b4_gray_core], b4_gray, [b4_black_core], b4_black),
]
cut_cols = [RED, GREEN, BLUE]
cut_marks = [('^', 9, 1.5), ('s', 7.5, 1.6), ('o', 10, 2.6)]
for i, (row, cloud) in enumerate(zip(b_rows, b_clouds)):
    top, bot, ylim, filt, ux, uy, lx, ly, bs, fs = row
    ax = px_axes(593.3, top, 940, bot)
    lcores, light, gcores, gray, bcores, black = cloud
    for c in lcores:
        blob(ax, c, '#cbcbcb', '#e4e4e4', 1.2)
    dots(ax, light, '#bcbcbc', z=1.3)
    for c in gcores:
        blob(ax, c, '#8e8e8e', '#ababab', 1.4)
    dots(ax, gray, GRAY, z=1.6)
    for c in bcores:
        blob(ax, c, '#141414', '#4a4a4a', 1.7)
    dots(ax, black, BLACK, z=1.8)
    for xx, yy in ((ux, uy), (lx, ly)):
        ax.plot(xx, yy, color='#8c8c8c', lw=2.6, zorder=2.5, solid_capstyle='round')
        ax.plot(xx, yy, color='#dcdcdc', lw=0.7, zorder=2.6)
    for k in range(3):
        ax.axvline(cut_colors[k], color=cut_cols[k], lw=1.6, zorder=3)
        mk, ms, mew = cut_marks[k]
        ax.plot([cut_colors[k]] * 2, [bs[k], fs[k]], ls='none', marker=mk, ms=ms,
                mfc='none', mec=cut_cols[k], mew=mew, zorder=4)
        ax.plot([cut_colors[k]] * 2, [bs[k], fs[k]], ls='none', marker='_', ms=ms * 0.55,
                mec=cut_cols[k], mew=1.0, zorder=4)
    ax.set_xlim(1.391, 2.634)
    ax.set_ylim(*ylim)
    ax.xaxis.set_major_locator(MultipleLocator(0.2))
    ax.xaxis.set_minor_locator(MultipleLocator(0.05))
    ax.yaxis.set_major_locator(MultipleLocator(0.2))
    ax.yaxis.set_minor_locator(MultipleLocator(0.05))
    ax.xaxis.set_major_formatter(plt.FuncFormatter(lambda v, p: f'{v:g}'))
    ax.yaxis.set_major_formatter(plt.FuncFormatter(lambda v, p: f'{v:g}'))
    style(ax, 9, 5, 14, 7)
    if i < 3:
        ax.tick_params(labelbottom=False)
    fig.text(509 / W, 1 - (top + bot) / 2 / H, mlabel(filt), rotation=90,
             ha='center', va='center', fontsize=23)
    if i == 0:
        ax.text(0.934, 0.846, 'b)', transform=ax.transAxes, family='DejaVu Serif',
                fontsize=20, color=RED, ha='right', va='baseline')

fig.text(766 / W, 1 - 898 / H, mlabel('F275W', 'F814W'), ha='center', va='center', fontsize=23)

fig.savefig('out.png', dpi=100)
